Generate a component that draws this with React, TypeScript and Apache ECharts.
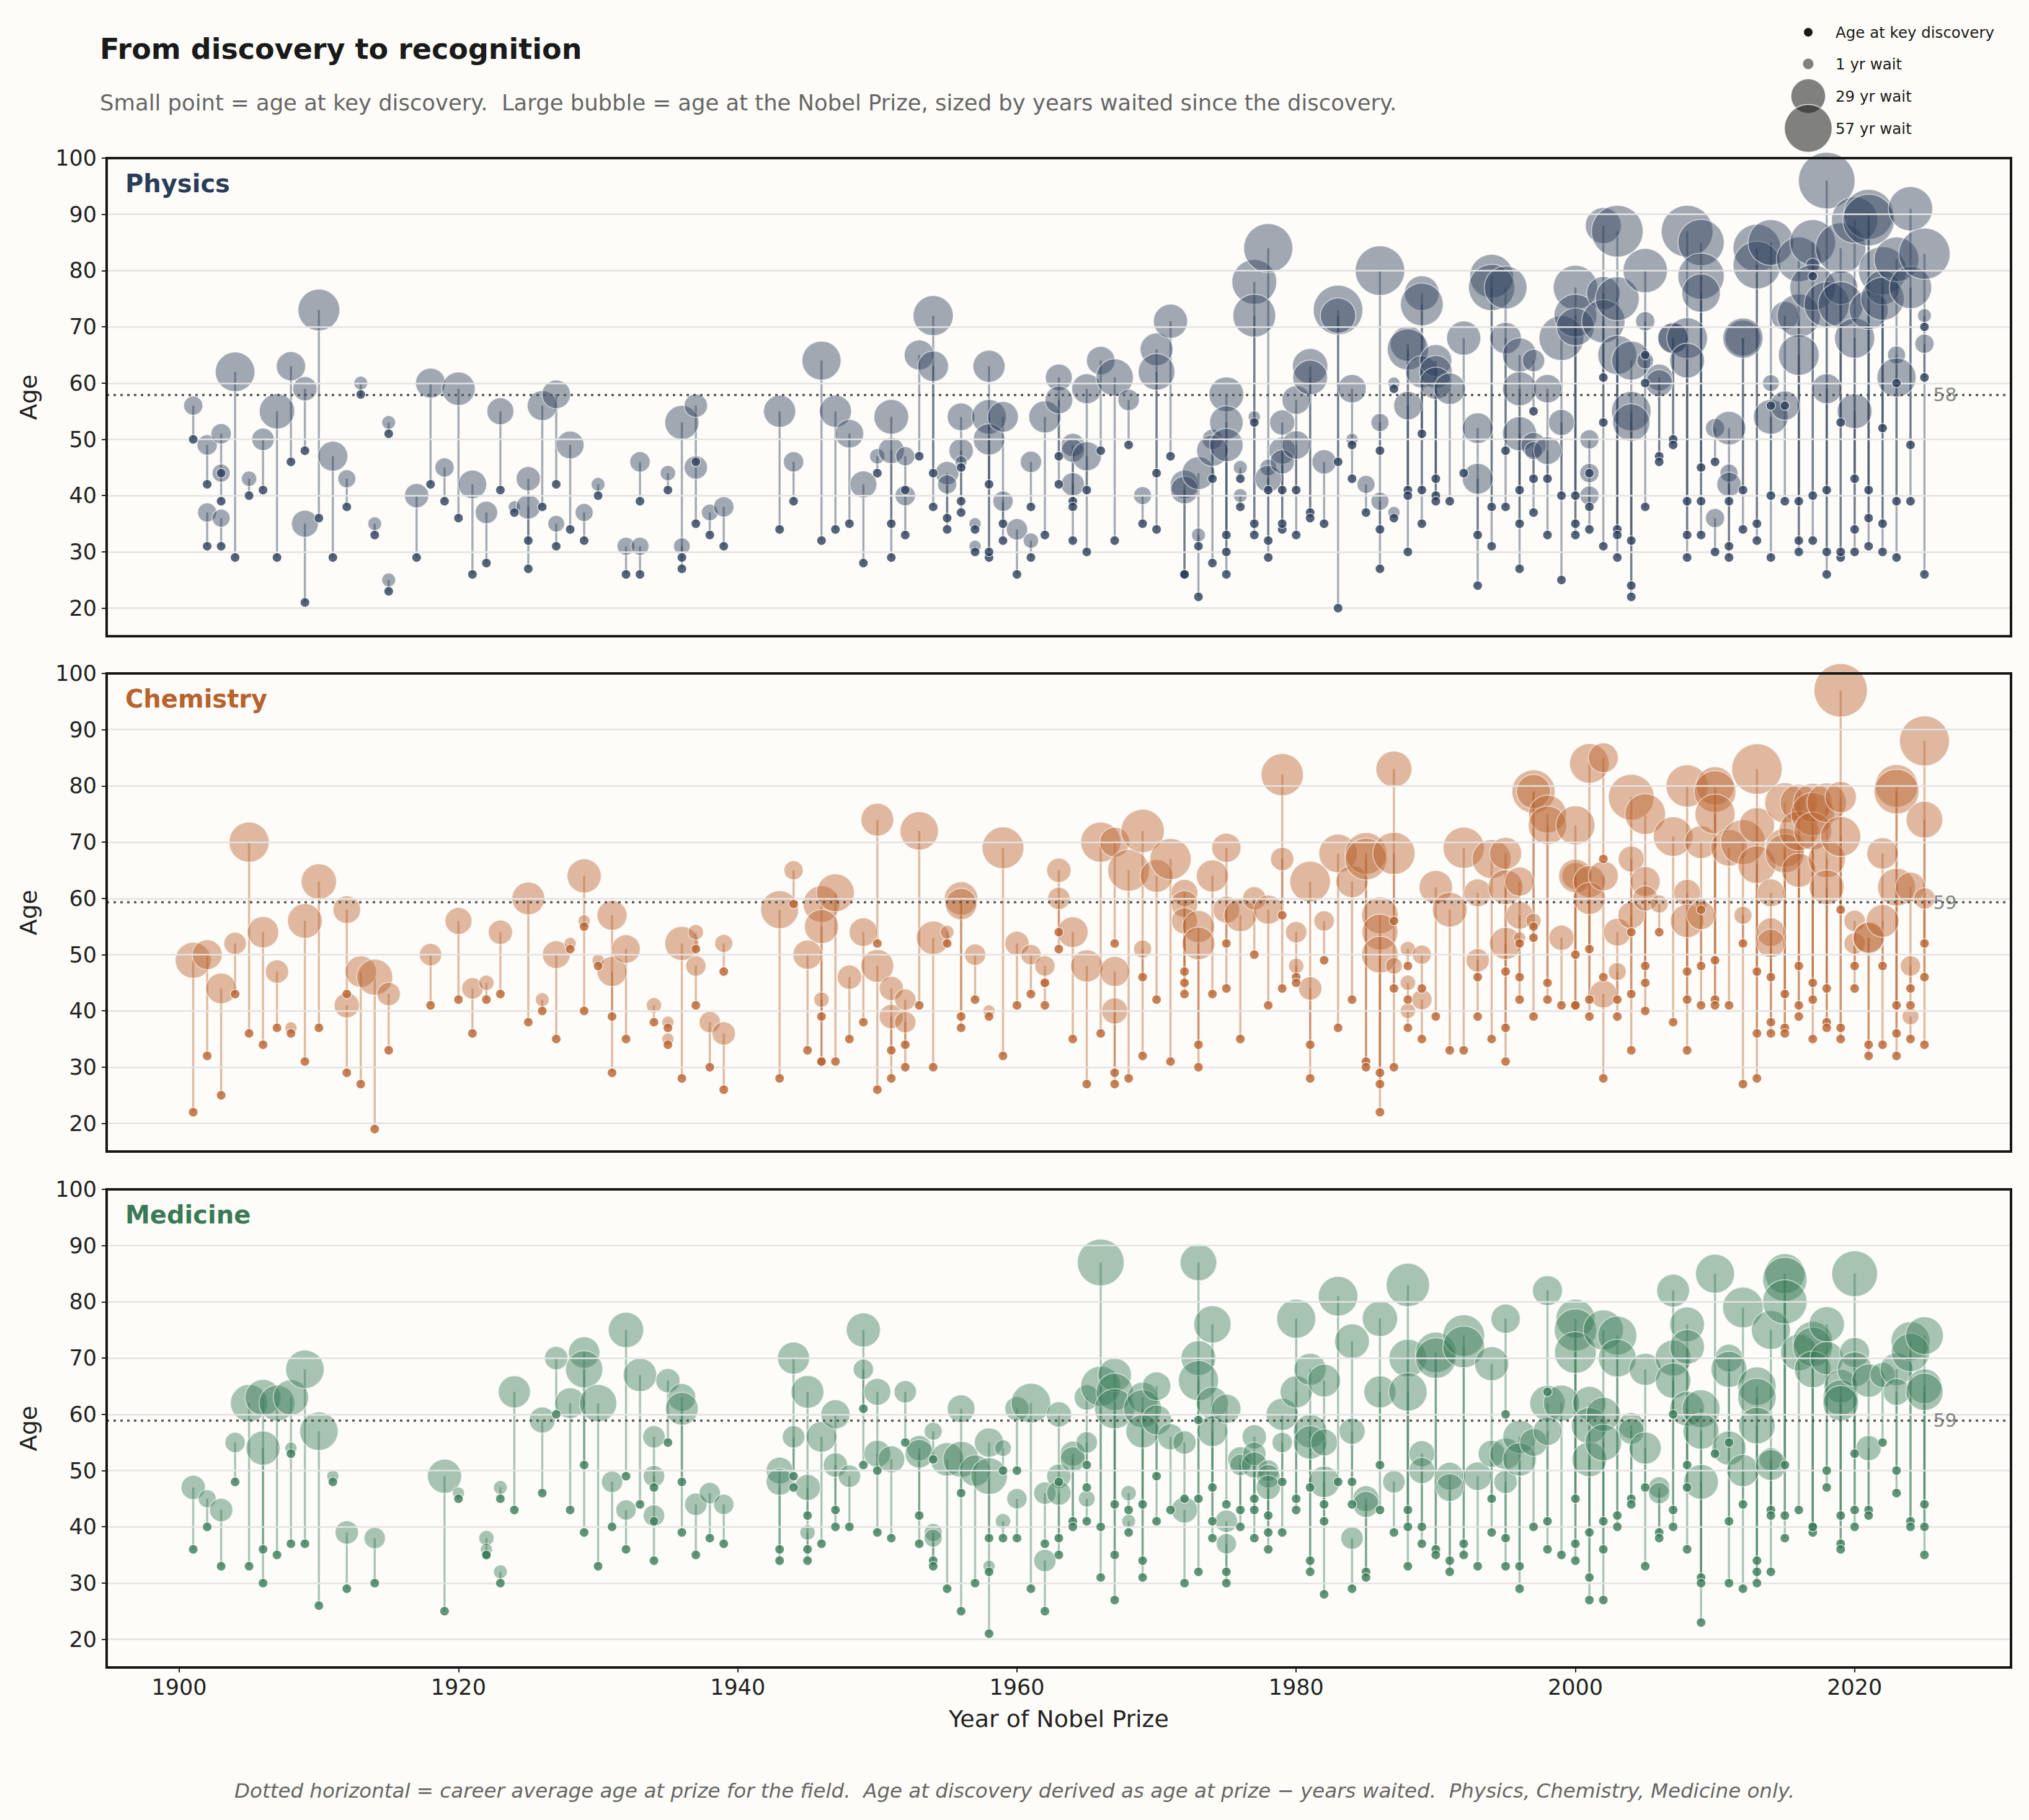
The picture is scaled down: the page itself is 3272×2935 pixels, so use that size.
import { useEffect, useRef } from "react";
import * as echarts from "echarts";

const FONT = "DejaVu Sans, sans-serif";
const BG = "#fdfcf8";

// [year of prize, age at prize, age at key discovery]
const PHYSICS: [number, number, number][] = [
  [1901,56,50],[1902,49,42],[1902,37,31],[1903,51,44],[1903,44,39],[1903,36,31],[1904,62,29],[1905,43,40],[1906,50,41],[1907,55,29],
  [1908,63,46],[1909,59,48],[1909,35,21],[1910,73,36],[1911,47,29],[1912,43,38],[1913,60,58],[1914,35,33],[1915,53,51],[1915,25,23],
  [1917,40,29],[1918,60,42],[1919,45,39],[1920,59,36],[1921,42,26],[1922,37,28],[1923,55,41],[1924,38,37],[1925,43,32],[1925,38,27],
  [1926,56,38],[1927,58,42],[1927,35,31],[1928,49,34],[1929,37,32],[1930,42,40],[1932,31,26],[1933,46,39],[1933,31,26],[1935,44,41],
  [1936,53,29],[1936,31,27],[1937,56,46],[1937,45,35],[1938,37,33],[1939,38,31],
  [1943,55,34],[1944,46,39],[1946,64,32],[1947,55,34],[1948,51,35],[1949,42,28],[1950,47,44],[1951,54,29],[1951,48,35],[1952,47,41],
  [1952,40,33],[1953,65,47],[1954,72,38],[1954,63,44],[1955,44,34],[1955,42,36],[1956,54,39],[1956,48,37],[1956,46,45],[1957,35,34],
  [1957,31,30],[1958,63,42],[1958,54,29],[1958,50,30],[1959,54,35],[1959,39,32],[1960,34,26],[1961,46,38],[1961,32,29],[1962,54,33],
  [1963,61,47],[1963,57,42],[1964,49,39],[1964,48,38],[1964,42,32],[1965,59,41],[1965,47,30],[1966,64,48],[1967,61,32],[1968,57,49],
  [1969,40,35],[1970,66,44],[1970,62,34],[1971,71,47],[1972,42,26],[1972,41,26],[1973,44,22],[1973,33,31],[1974,50,43],[1974,48,28],
  [1975,58,33],[1975,53,30],[1975,49,26],[1976,45,43],[1976,40,38],[1977,78,35],[1977,72,33],[1977,54,53],[1978,84,32],[1978,45,41],
  [1978,43,29],[1979,53,41],[1979,48,34],[1979,46,35],[1980,57,41],[1980,49,33],[1981,63,37],[1981,61,36],[1982,46,35],[1983,73,20],
  [1983,72,46],[1984,59,43],[1984,50,49],[1985,42,37],[1986,80,27],[1986,53,48],[1986,39,34],[1987,60,59],[1987,37,36],[1988,67,41],
  [1988,66,30],[1988,56,40],[1989,76,51],[1989,74,35],[1989,62,41],[1990,64,43],[1990,62,40],[1990,60,39],[1991,59,39],[1992,68,44],
  [1993,52,33],[1993,43,24],[1994,79,38],[1994,77,31],[1995,77,38],[1995,68,48],[1996,65,41],[1996,59,35],[1996,51,27],[1997,64,55],
  [1997,49,37],[1997,48,43],[1998,59,43],[1998,48,33],[1999,68,25],[1999,53,40],[2000,77,35],[2000,72,33],[2000,70,40],[2001,50,44],
  [2001,44,38],[2001,40,34],[2002,88,61],[2002,76,53],[2002,71,31],[2003,87,29],[2003,75,34],[2003,65,33],[2004,64,32],[2004,55,22],
  [2004,53,24],[2005,80,38],[2005,71,65],[2005,64,60],[2006,61,47],[2006,60,46],[2007,68,50],[2007,68,49],[2008,87,29],[2008,68,33],
  [2008,64,39],[2009,85,39],[2009,79,33],[2009,76,45],[2010,52,46],[2010,36,30],[2011,52,29],[2011,44,39],[2011,42,31],[2012,68,41],
  [2012,68,34],[2013,84,35],[2013,81,32],[2014,85,40],[2014,60,56],[2014,54,29],[2015,72,56],[2015,56,39],[2016,82,39],[2016,72,32],
  [2016,65,30],[2017,85,40],[2017,81,79],[2017,77,32],[2018,96,26],[2018,74,30],[2018,59,41],[2019,84,29],[2019,77,53],[2019,74,30],
  [2020,89,43],[2020,68,34],[2020,55,30],[2021,90,36],[2021,89,31],[2021,73,41],[2022,80,30],[2022,77,52],[2022,75,35],[2023,82,39],
  [2023,65,60],[2023,61,29],[2024,91,49],[2024,77,39],[2025,83,26],[2025,72,70],[2025,67,61],
];

const CHEMISTRY: [number, number, number][] = [
  [1901,49,22],[1902,50,32],[1903,44,25],[1904,52,43],[1905,70,36],[1906,54,34],[1907,47,37],[1908,37,36],[1909,56,31],[1910,63,37],
  [1912,58,43],[1912,41,29],[1913,47,27],[1914,46,19],[1915,43,33],[1918,50,41],[1920,56,42],[1921,44,36],[1922,45,42],[1923,54,43],
  [1925,60,38],[1926,42,40],[1927,50,35],[1928,52,51],[1929,64,40],[1929,56,55],[1930,49,48],[1931,57,39],[1931,47,29],[1932,51,35],
  [1934,41,38],[1935,38,37],[1935,35,34],[1936,52,28],[1937,54,51],[1937,48,41],[1938,38,30],[1939,52,47],[1939,36,26],
  [1943,58,28],[1944,65,59],[1945,50,33],[1946,59,31],[1946,55,31],[1946,42,39],[1947,61,31],[1948,46,35],[1949,54,38],[1950,74,52],
  [1950,48,26],[1951,44,33],[1951,39,28],[1952,42,34],[1952,38,30],[1953,72,41],[1954,53,30],[1955,54,52],[1956,60,37],[1956,59,39],
  [1957,50,42],[1958,40,39],[1959,69,32],[1960,52,41],[1961,50,43],[1962,48,41],[1962,45,45],[1963,65,54],[1963,60,51],[1964,54,35],
  [1965,48,27],[1966,70,36],[1967,70,52],[1967,47,29],[1967,40,27],[1968,65,28],[1969,72,32],[1969,51,46],[1970,64,42],[1971,67,31],
  [1972,61,47],[1972,59,45],[1972,56,43],[1973,55,34],[1973,52,30],[1974,64,43],[1975,69,52],[1975,58,44],[1976,57,35],[1977,60,50],
  [1978,58,41],[1979,82,44],[1979,67,57],[1980,54,46],[1980,48,45],[1981,63,28],[1981,44,34],[1982,56,49],[1983,68,37],[1984,63,42],
  [1985,68,31],[1985,67,30],[1986,57,29],[1986,54,27],[1986,50,22],[1987,83,56],[1987,68,30],[1987,48,44],[1988,51,48],[1988,45,42],
  [1988,40,37],[1989,50,44],[1989,42,35],[1990,62,39],[1991,58,33],[1992,69,33],[1993,61,46],[1993,49,39],[1994,67,35],[1995,68,47],
  [1995,62,37],[1995,52,31],[1996,63,46],[1996,57,42],[1996,53,52],[1997,79,39],[1997,79,55],[1997,56,53],[1998,75,45],[1998,73,42],
  [1999,53,41],[2000,73,41],[2000,64,50],[2000,64,41],[2001,84,51],[2001,63,42],[2001,60,39],[2002,85,67],[2002,64,46],[2002,43,28],
  [2003,54,39],[2003,47,42],[2004,78,33],[2004,67,54],[2004,57,43],[2005,75,40],[2005,63,45],[2005,60,48],[2006,59,54],[2007,71,38],
  [2008,80,42],[2008,61,47],[2008,56,33],[2009,70,48],[2009,59,58],[2009,57,41],[2010,80,49],[2010,79,42],[2010,75,41],[2011,69,41],
  [2012,70,27],[2012,57,52],[2013,83,28],[2013,73,47],[2013,66,36],[2014,61,46],[2014,54,38],[2014,52,36],[2015,77,43],[2015,69,37],
  [2015,68,36],[2016,77,48],[2016,72,39],[2016,65,41],[2017,77,45],[2017,75,35],[2017,72,42],[2018,77,44],[2018,67,38],[2018,62,37],
  [2019,97,35],[2019,78,58],[2019,71,37],[2020,56,48],[2020,52,44],[2021,53,32],[2021,53,34],[2022,68,48],[2022,56,34],[2023,80,41],
  [2023,79,36],[2023,62,32],[2024,62,44],[2024,48,41],[2024,39,35],[2025,88,34],[2025,74,46],[2025,60,52],
];

const MEDICINE: [number, number, number][] = [
  [1901,47,36],[1902,45,40],[1903,43,33],[1904,55,48],[1905,62,33],[1906,63,36],[1906,54,30],[1907,62,35],[1908,63,37],[1908,54,53],
  [1909,68,37],[1910,57,26],[1911,49,48],[1912,39,29],[1914,38,30],[1919,49,25],[1920,46,45],[1922,38,35],[1922,36,35],[1923,47,45],
  [1923,32,30],[1924,64,43],[1926,59,46],[1927,70,60],[1928,62,43],[1929,71,51],[1929,68,39],[1930,62,33],[1931,48,40],[1932,75,49],
  [1932,43,36],[1933,67,44],[1934,56,47],[1934,49,41],[1934,42,34],[1935,66,55],[1936,63,48],[1936,61,39],[1937,44,35],[1938,46,38],
  [1939,44,37],
  [1943,50,36],[1943,48,34],[1944,70,49],[1944,56,47],[1945,64,42],[1945,47,34],[1945,39,36],[1946,56,37],[1947,60,43],[1947,51,40],
  [1948,49,40],[1949,75,51],[1949,68,61],[1950,64,50],[1950,53,39],[1951,52,38],[1952,64,55],[1953,54,42],[1953,53,37],[1954,57,52],
  [1954,39,34],[1954,38,33],[1955,52,29],[1956,61,46],[1956,52,25],[1957,50,30],[1958,55,38],[1958,49,21],[1958,33,32],[1959,54,50],
  [1959,41,38],[1960,61,50],[1960,45,38],[1961,62,29],[1962,46,37],[1962,34,25],[1963,60,48],[1963,49,38],[1963,46,35],[1964,53,41],
  [1964,52,40],[1965,63,51],[1965,55,47],[1965,45,41],[1966,87,40],[1966,65,31],[1967,67,44],[1967,64,35],[1967,61,27],[1968,46,43],
  [1968,41,39],[1969,63,44],[1969,61,31],[1969,57,34],[1970,65,49],[1970,59,41],[1971,56,43],[1972,55,45],[1972,43,30],[1973,87,59],
  [1973,70,45],[1973,66,32],[1974,76,47],[1974,62,41],[1974,57,38],[1975,61,44],[1975,41,32],[1975,37,30],[1976,52,40],[1976,51,43],
  [1977,56,45],[1977,53,43],[1977,51,38],[1978,50,42],[1978,49,39],[1978,47,36],[1979,60,39],[1979,55,48],[1980,77,45],[1980,64,43],
  [1981,68,47],[1981,57,34],[1981,55,32],[1982,66,44],[1982,55,41],[1982,48,28],[1983,81,48],[1984,73,48],[1984,57,44],[1984,38,29],
  [1985,45,32],[1985,44,31],[1986,77,51],[1986,64,43],[1987,48,39],[1988,83,43],[1988,70,40],[1988,64,33],[1989,53,40],[1989,50,37],
  [1990,71,36],[1990,70,35],[1991,49,34],[1991,47,32],[1992,74,37],[1992,72,35],[1993,49,33],[1994,69,45],[1994,53,39],[1995,77,60],
  [1995,53,33],[1995,48,38],[1996,56,33],[1996,52,29],[1997,55,40],[1998,82,64],[1998,62,36],[1998,57,41],[1999,62,35],[2000,77,45],
  [2000,75,37],[2000,71,34],[2001,62,39],[2001,58,31],[2001,52,27],[2002,75,41],[2002,60,36],[2002,55,27],[2003,74,42],[2003,70,40],
  [2004,58,45],[2004,57,44],[2005,68,47],[2005,54,33],[2006,47,39],[2006,46,38],[2007,82,60],[2007,70,43],[2007,66,40],[2008,76,51],
  [2008,72,47],[2008,61,36],[2009,61,31],[2009,57,30],[2009,48,23],[2010,85,53],[2011,70,55],[2011,68,41],[2011,54,30],[2012,79,44],
  [2012,50,29],[2013,65,34],[2013,63,32],[2013,58,30],[2014,75,43],[2014,52,42],[2014,51,32],[2015,85,51],[2015,84,42],[2015,80,38],
  [2016,71,43],[2017,73,40],[2017,72,39],[2017,68,40],[2018,76,50],[2018,70,47],[2019,65,42],[2019,63,37],[2019,62,36],[2020,85,40],
  [2020,71,53],[2020,68,43],[2021,66,43],[2021,54,42],[2022,67,55],[2023,68,46],[2023,64,50],[2024,73,41],[2024,71,40],[2025,74,44],
  [2025,65,40],[2025,64,35],
];

const FIELDS = ["Physics", "Chemistry", "Medicine"];
const FIELD_DATA = [PHYSICS, CHEMISTRY, MEDICINE];
const FIELD_COLORS = ["#2b3d59", "#b8622d", "#3a7a57"];
const FIELD_AVG = [57.9, 59.3, 58.9];
const Y_TICKS = [20, 30, 40, 50, 60, 70, 80, 90, 100];
const X_TICKS = [1900, 1920, 1940, 1960, 1980, 2000, 2020];
const LEGEND_WAITS = [1, 29, 57];

// layout (px)
const GRID_TOPS = [255, 1086, 1918];
const GRID_H = 771;
const GRID_LEFT = 172;
const GRID_RIGHT = 29;

const rgba = (hex: string, a: number) => {
  const n = parseInt(hex.slice(1), 16);
  return `rgba(${(n >> 16) & 255},${(n >> 8) & 255},${n & 255},${a})`;
};

const bubbleSize = (wait: number) => Math.sqrt(260 + 115 * wait);
const legendSize = (wait: number) => Math.sqrt(230 + 100 * wait);

function buildOption(): echarts.EChartsOption {
  const grid = GRID_TOPS.map((top) => ({
    left: GRID_LEFT,
    right: GRID_RIGHT,
    top,
    height: GRID_H,
    show: true,
    borderColor: "#161616",
    borderWidth: 4,
    backgroundColor: "transparent",
    z: 10,
  }));

  // only the bottom panel carries x ticks and labels (shared x axis)
  const xAxis = FIELDS.map((_, i) => ({
    type: "value" as const,
    gridIndex: i,
    min: 1894.8,
    max: 2031.2,
    axisLine: { show: false },
    splitLine: { show: false },
    axisTick: {
      show: i === 2,
      length: 8,
      lineStyle: { color: "#222", width: 2 },
      customValues: X_TICKS,
    },
    axisLabel: {
      show: i === 2,
      customValues: X_TICKS,
      formatter: (v: number) => String(v),
      fontSize: 35,
      color: "#222",
      fontFamily: FONT,
      margin: 14,
    },
    name: i === 2 ? "Year of Nobel Prize" : "",
    nameLocation: "middle" as const,
    nameGap: 64,
    nameTextStyle: { fontSize: 38, color: "#222", fontFamily: FONT },
  }));

  const yAxis = FIELDS.map((_, i) => ({
    type: "value" as const,
    gridIndex: i,
    min: 15,
    max: 100,
    axisLine: { show: false },
    splitLine: { show: false },
    axisTick: {
      show: true,
      length: 8,
      lineStyle: { color: "#222", width: 2 },
      customValues: Y_TICKS,
    },
    axisLabel: {
      customValues: Y_TICKS,
      formatter: (v: number) => String(v),
      fontSize: 35,
      color: "#222",
      fontFamily: FONT,
      margin: 16,
    },
  }));

  const series: any[] = [];
  FIELDS.forEach((_, i) => {
    const color = FIELD_COLORS[i];
    const rows = FIELD_DATA[i];
    const avg = FIELD_AVG[i];

    // horizontal grid lines (top one is the frame)
    series.push({
      type: "line",
      xAxisIndex: i,
      yAxisIndex: i,
      data: [],
      silent: true,
      z: 1,
      markLine: {
        silent: true,
        symbol: "none",
        label: { show: false },
        lineStyle: { color: "#e3e3e3", width: 2.5, type: "solid" },
        data: Y_TICKS.filter((v) => v < 100).map((v) => ({ yAxis: v })),
      },
    });

    // stems: discovery -> prize
    series.push({
      type: "custom",
      xAxisIndex: i,
      yAxisIndex: i,
      z: 2,
      silent: true,
      encode: { x: 0, y: [1, 2] },
      data: rows,
      renderItem: (_p: any, api: any) => {
        const x = api.value(0);
        const a = api.coord([x, api.value(1)]);
        const b = api.coord([x, api.value(2)]);
        return {
          type: "line",
          shape: { x1: a[0], y1: a[1], x2: b[0], y2: b[1] },
          style: { stroke: rgba(color, 0.42), lineWidth: 3.5 },
        };
      },
    });

    // prize bubbles
    series.push({
      type: "scatter",
      xAxisIndex: i,
      yAxisIndex: i,
      z: 3,
      data: rows.map((r) => [r[0], r[1], r[1] - r[2]]),
      symbolSize: (v: number[]) => bubbleSize(v[2]),
      itemStyle: {
        color: rgba(color, 0.55),
        borderColor: "rgba(255,255,255,0.75)",
        borderWidth: 1.5,
      },
    });

    // career average
    series.push({
      type: "line",
      xAxisIndex: i,
      yAxisIndex: i,
      data: [],
      silent: true,
      z: 4,
      markLine: {
        silent: true,
        symbol: "none",
        label: { show: false },
        lineStyle: { color: "#555", width: 3.5, type: [4, 7] },
        data: [{ yAxis: avg }],
      },
    });

    // discovery points
    series.push({
      type: "scatter",
      xAxisIndex: i,
      yAxisIndex: i,
      z: 5,
      data: rows.map((r) => [r[0], r[2]]),
      symbolSize: 15,
      itemStyle: { color, borderColor: "#ffffff", borderWidth: 1.2 },
    });

    // average label
    series.push({
      type: "scatter",
      xAxisIndex: i,
      yAxisIndex: i,
      z: 6,
      silent: true,
      data: [[2025.6, avg]],
      symbolSize: 1,
      itemStyle: { color: "transparent" },
      label: {
        show: true,
        position: "right",
        distance: 0,
        formatter: () => String(Math.round(avg)),
        fontSize: 30,
        color: "#666",
        fontFamily: FONT,
      },
    });
  });

  const text = (x: number, y: number, t: string, s: any, extra: any = {}) => ({
    type: "text",
    x,
    y,
    silent: true,
    ...extra,
    style: {
      text: t,
      fontFamily: FONT,
      align: "left",
      textAlign: "left",
      verticalAlign: "middle",
      textVerticalAlign: "middle",
      ...s,
    },
  });

  const graphic: any[] = [
    text(161, 79, "From discovery to recognition", { fontSize: 46, fontWeight: "bold", fill: "#1a1a1a" }),
    text(
      161,
      165,
      "Small point = age at key discovery.  Large bubble = age at the Nobel Prize, sized by years waited since the discovery.",
      { fontSize: 35.4, fill: "#666" }
    ),
    text(
      1636,
      2888,
      "Dotted horizontal = career average age at prize for the field.  Age at discovery derived as age at prize \u2212 years waited.  Physics, Chemistry, Medicine only.",
      { fontSize: 32.5, fontStyle: "italic", fill: "#666", align: "center", textAlign: "center" }
    ),
  ];

  FIELDS.forEach((name, i) => {
    graphic.push(
      text(202, GRID_TOPS[i] + 41, name, { fontSize: 40, fontWeight: "bold", fill: FIELD_COLORS[i] })
    );
    graphic.push(
      text(46, GRID_TOPS[i] + GRID_H / 2, "Age", { fontSize: 38, fill: "#222", align: "center", textAlign: "center" }, { rotation: Math.PI / 2 })
    );
  });

  // legend
  const LX = 2916;
  const TX = 2960;
  const rowsY = [52, 103, 155, 207];
  graphic.push({
    type: "circle",
    shape: { cx: LX, cy: rowsY[0], r: 7 },
    style: { fill: "#1a1a1a" },
    silent: true,
  });
  graphic.push(text(TX, rowsY[0], "Age at key discovery", { fontSize: 24.5, fill: "#1a1a1a" }));
  LEGEND_WAITS.forEach((w, k) => {
    graphic.push({
      type: "circle",
      shape: { cx: LX, cy: rowsY[k + 1], r: legendSize(w) / 2 },
      style: { fill: "rgba(26,26,26,0.55)", stroke: "rgba(255,255,255,0.8)", lineWidth: 1.5 },
      silent: true,
    });
    graphic.push(text(TX, rowsY[k + 1], `${w} yr wait`, { fontSize: 24.5, fill: "#1a1a1a" }));
  });

  return {
    animation: false,
    backgroundColor: BG,
    grid,
    xAxis,
    yAxis,
    series,
    graphic,
  } as echarts.EChartsOption;
}

export default function App() {
  const ref = useRef<HTMLDivElement>(null);

  useEffect(() => {
    if (!ref.current) return;
    const chart = echarts.init(ref.current, undefined, { renderer: "svg" });
    chart.setOption(buildOption());
    return () => chart.dispose();
  }, []);

  return (
    <div
      ref={ref}
      style={{ position: "fixed", left: 0, top: 0, width: 3272, height: 2935, background: BG }}
    />
  );
}
